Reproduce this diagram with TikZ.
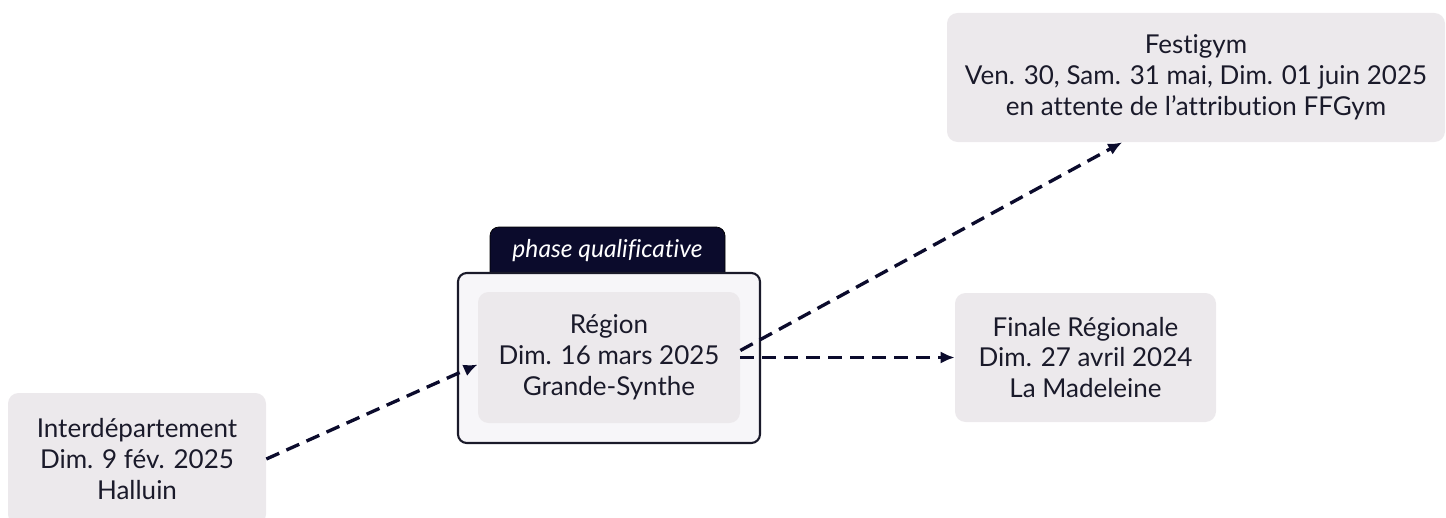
\documentclass[tikz,border=0pt]{standalone}
\usepackage{fontspec}
\setmainfont{Lato}[Ligatures=NoCommon]
\usetikzlibrary{arrows.meta}
\definecolor{navy}{HTML}{0B0B2C}
\definecolor{inkdark}{HTML}{1A1A2A}
\definecolor{boxgray}{HTML}{ECE9EC}
\definecolor{framefill}{HTML}{F7F6F9}
\begin{document}
\begin{tikzpicture}[x=0.02cm,y=-0.02cm,
    etape/.style={fill=boxgray,rounded corners=6pt,align=center,text=inkdark,
        font=\fontsize{14.8}{17.6}\selectfont,inner sep=0pt},
    fleche/.style={draw=navy,line width=1.9pt,dash pattern=on 8pt off 4.5pt,
        -{Latex[length=8pt,width=7pt]}}]
    \useasboundingbox (0,0) rectangle (1446,517);
    % phase qualificative
    \draw[fill=navy,rounded corners=5pt] (490,285) -- (490,227) -- (725,227) -- (725,285);
    \node[text=white,font=\fontsize{14}{16}\selectfont\itshape] (tab) at (607.5,251) {phase qualificative};
    \draw[draw=inkdark,line width=1.2pt,fill=framefill,rounded corners=5pt] (458,273) rectangle (760,443);
    % etapes
    \node[etape,minimum width=258*0.02cm,minimum height=132*0.02cm] (inter) at (137,459) {Interdépartement\\Dim. 9 fév. 2025\\Halluin};
    \node[etape,minimum width=262*0.02cm,minimum height=131*0.02cm] (region) at (609,357.5) {Région\\Dim. 16 mars 2025\\Grande-Synthe};
    \node[etape,minimum width=261*0.02cm,minimum height=129*0.02cm] (finale) at (1085.5,357.5) {Finale Régionale\\Dim. 27 avril 2024\\La Madeleine};
    \node[etape,minimum width=498*0.02cm,minimum height=129*0.02cm] (festi) at (1196,77.5) {Festigym\\Ven. 30, Sam. 31 mai, Dim. 01 juin 2025\\en attente de l’attribution FFGym};
    % fleches
    \draw[fleche] (inter.east) -- ([yshift=-4pt]region.west);
    \draw[fleche] ([yshift=4pt]region.east) -- ([xshift=-42pt]festi.south);
    \draw[fleche] (region.east) -- (finale.west);
\end{tikzpicture}
\end{document}
